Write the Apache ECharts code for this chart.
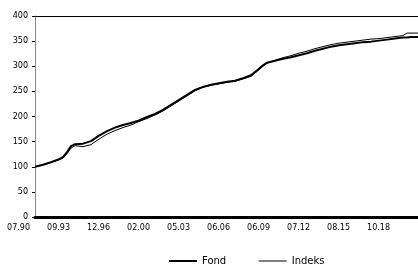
<!DOCTYPE html>
<html>
<head>
<meta charset="utf-8">
<script src="https://cdn.jsdelivr.net/npm/echarts@6/dist/echarts.min.js"></script>
<style>
  html, body { margin: 0; padding: 0; background: #fff; }
  #chart { width: 418px; height: 270px; }
</style>
</head>
<body>
<div id="chart"></div>
<script>
// point index along the x axis (observation number)
const pointIndex = [0, 8, 16, 24, 28, 32, 36, 40, 48, 56, 64, 72, 80, 88, 96, 104, 112, 120, 128, 136,
  144, 152, 160, 168, 176, 184, 192, 200, 208, 216, 224, 228, 232, 240, 248, 256, 264, 272, 280, 288,
  296, 304, 312, 320, 328, 336, 344, 352, 360, 368, 372, 376, 383];

const fondValues = [100, 104, 109, 115, 119, 129, 141, 145, 146, 151, 162, 171, 178, 183, 187, 192,
  199, 205, 213, 223, 233, 243, 253, 259, 263, 266, 269, 271, 276, 282, 295, 302, 307, 311, 315, 318,
  322, 326, 331, 335, 339, 342, 344, 346, 348, 349, 351, 353, 355, 357, 357, 358, 358];

const indeksValues = [100, 104, 109, 114, 117, 126, 137, 142, 140, 144, 155, 165, 172, 178, 183, 190,
  196, 203, 211, 221, 231, 241, 251, 258, 262, 265, 268, 270, 275, 280, 293, 300, 306, 312, 317, 321,
  326, 330, 335, 339, 343, 346, 348, 350, 352, 354, 355, 357, 359, 361, 366, 366, 366];

const tickLabels = ["07.90", "09.93", "12.96", "02.00", "05.03", "06.06", "06.09", "07.12", "08.15", "10.18"];

const zip = (xs, ys) => xs.map((x, i) => [x, ys[i]]);

const chart = echarts.init(document.getElementById("chart"));
chart.setOption({
  animation: false,
  textStyle: { fontFamily: "DejaVu Sans", color: "#000" },
  grid: { left: 35, right: 0, top: 16, bottom: 53 },
  xAxis: {
    type: "value",
    min: 0,
    max: 383,
    interval: 40,
    axisLine: { show: true, onZero: false, lineStyle: { color: "#000", width: 3 } },
    axisTick: { show: false },
    splitLine: { show: false },
    axisLabel: {
      fontSize: 8,
      color: "#000",
      margin: 7,
      align: "right",
      padding: [0, 5, 0, 0],
      showMaxLabel: false,
      formatter: (v) => tickLabels[v / 40] || ""
    }
  },
  yAxis: {
    type: "value",
    min: 0,
    max: 400,
    interval: 50,
    axisLine: { show: true, lineStyle: { color: "#888", width: 1 } },
    axisTick: { show: true, length: 3, lineStyle: { color: "#000" } },
    splitLine: { show: false },
    axisLabel: { fontSize: 8, color: "#000", margin: 7 }
  },
  legend: {
    top: 251,
    left: 163,
    itemWidth: 28,
    itemHeight: 8,
    itemGap: 32,
    itemStyle: { opacity: 0 },
    textStyle: { fontSize: 10, color: "#000" },
    data: [
      { name: "Fond", lineStyle: { width: 2 } },
      { name: "Indeks", lineStyle: { width: 1 } }
    ]
  },
  series: [
    {
      name: "Fond",
      type: "line",
      symbol: "none",
      data: zip(pointIndex, fondValues),
      lineStyle: { color: "#000", width: 2 },
      itemStyle: { color: "#000" },
      // top border of the plot area
      markLine: {
        silent: true,
        symbol: "none",
        label: { show: false },
        lineStyle: { color: "#000", width: 1, type: "solid" },
        data: [{ yAxis: 400 }]
      }
    },
    {
      name: "Indeks",
      type: "line",
      symbol: "none",
      data: zip(pointIndex, indeksValues),
      lineStyle: { color: "#000", width: 1 },
      itemStyle: { color: "#000" }
    }
  ]
});
</script>
</body>
</html>
